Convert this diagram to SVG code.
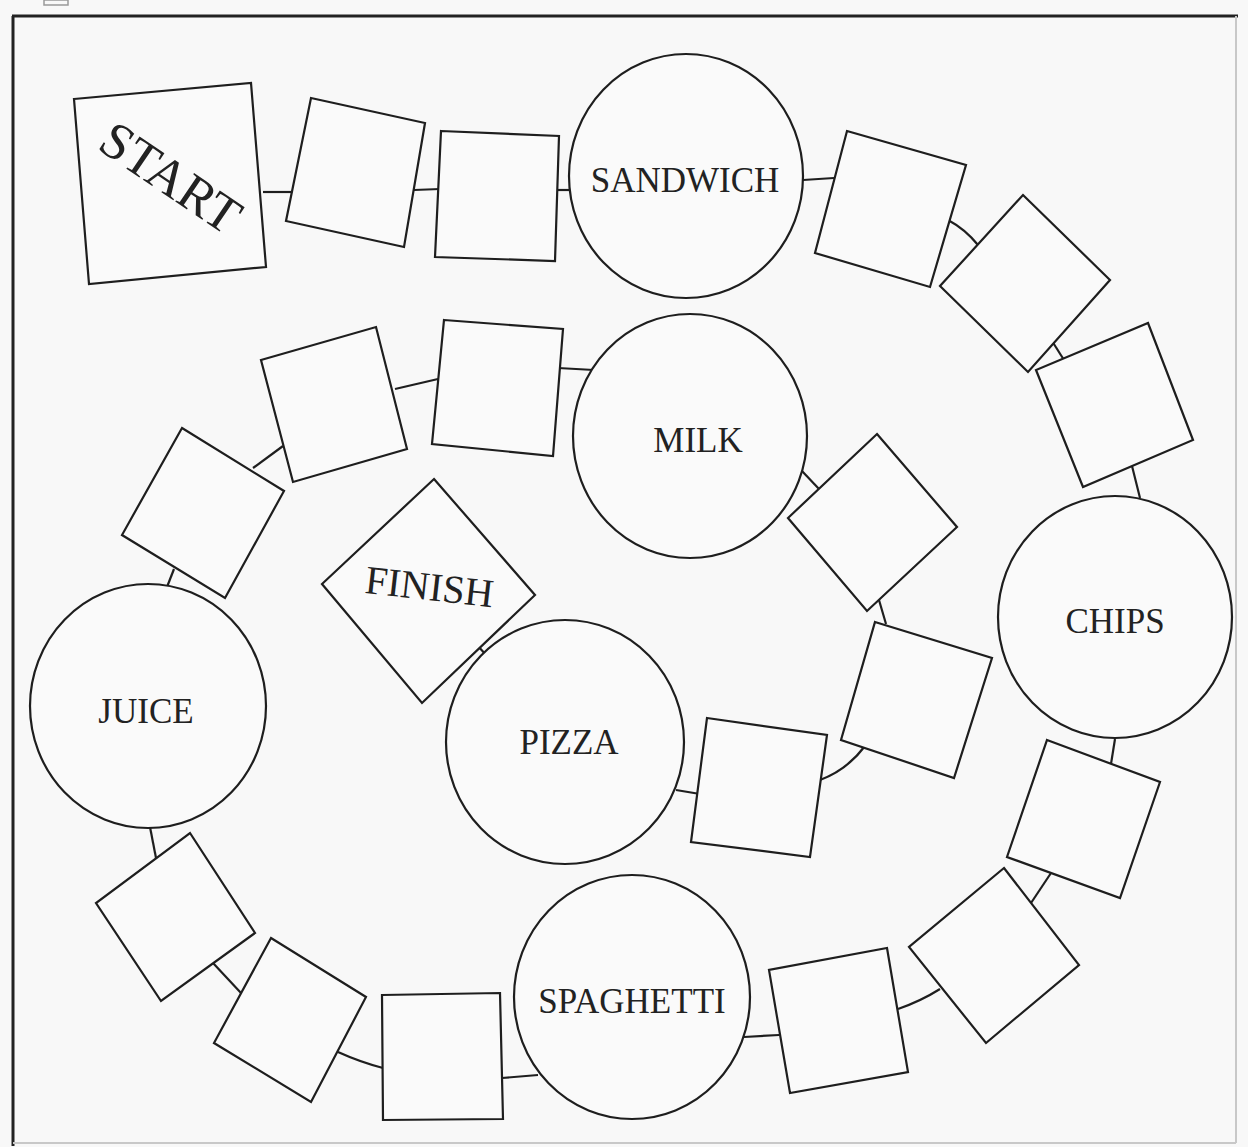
<svg xmlns="http://www.w3.org/2000/svg" width="1248" height="1147" viewBox="0 0 1248 1147">
<style>
.s{fill:#fafafa;stroke:#1e1e1e;stroke-width:2.2;stroke-linejoin:miter}
.c{fill:none;stroke:#1e1e1e;stroke-width:2.2}
.t{font-family:"Liberation Serif","Times New Roman",serif;font-size:35px;fill:#222;text-anchor:middle}
</style>
<rect x="0" y="0" width="1248" height="1147" fill="#f8f8f8"/>
<rect x="44" y="0" width="24" height="5" fill="none" stroke="#999" stroke-width="1.5"/>
<g id="frame">
<line x1="12" y1="16" x2="1238" y2="16" stroke="#222" stroke-width="3"/>
<line x1="13" y1="16" x2="13" y2="1146" stroke="#222" stroke-width="3"/>
<line x1="1236" y1="16" x2="1236" y2="1143" stroke="#c8c8c8" stroke-width="2"/>
<line x1="13" y1="1143" x2="1236" y2="1143" stroke="#c8c8c8" stroke-width="2"/>
</g>
<g id="connectors">
<line class="c" x1="263" y1="192" x2="291" y2="192"/>
<line class="c" x1="414" y1="190" x2="440" y2="189"/>
<line class="c" x1="556" y1="190" x2="571" y2="190"/>
<line class="c" x1="803" y1="180" x2="834" y2="178"/>
<path class="c" d="M948 220 Q965 229 978 245" stroke-width="3.5"/>
<line class="c" x1="1052" y1="341" x2="1064" y2="360" stroke-width="3.5"/>
<line class="c" x1="1132" y1="466" x2="1140" y2="498" stroke-width="3.5"/>
<line class="c" x1="1115" y1="739" x2="1111" y2="764" stroke-width="3.5"/>
<line class="c" x1="1051" y1="873" x2="1031" y2="903" stroke-width="3"/>
<path class="c" d="M940 989 Q921 1001 898 1009" stroke-width="2.5"/>
<line class="c" x1="779" y1="1035" x2="744" y2="1037"/>
<line class="c" x1="538" y1="1075" x2="502" y2="1078"/>
<path class="c" d="M383 1068 Q360 1062 338 1052" stroke-width="2.8"/>
<line class="c" x1="241" y1="993" x2="213" y2="963" stroke-width="3"/>
<line class="c" x1="156" y1="858" x2="150" y2="827" stroke-width="3.5"/>
<line class="c" x1="167" y1="587" x2="174" y2="569" stroke-width="3"/>
<line class="c" x1="253" y1="468" x2="283" y2="446"/>
<line class="c" x1="395" y1="389" x2="438" y2="379"/>
<line class="c" x1="558" y1="368" x2="594" y2="370"/>
<line class="c" x1="802" y1="471" x2="819" y2="489" stroke-width="3"/>
<line class="c" x1="879" y1="600" x2="886" y2="624" stroke-width="3.5"/>
<path class="c" d="M865 746 Q847 770 820 780"/>
<line class="c" x1="676" y1="790" x2="700" y2="794"/>
<line class="c" x1="477" y1="645" x2="487" y2="656"/>
</g>
<g id="start">
<polygon class="s" points="74,99 251,83 266,267 89,284"/>
<text class="t" style="font-size:52px" x="161" y="192" transform="rotate(34 161 192)">START</text>
</g>
<g id="sq2"><polygon class="s" points="311,98 425,123 404,247 286,221"/></g>
<g id="sq3"><polygon class="s" points="441,131 559,136 555,261 435,257"/></g>
<g id="sandwich">
<ellipse class="s" cx="686" cy="176" rx="117" ry="122"/>
<text class="t" x="685" y="192">SANDWICH</text>
</g>
<g id="sq4"><polygon class="s" points="847,131 966,165 930,287 815,253"/></g>
<g id="sq5"><polygon class="s" points="1023,195 1110,280 1028,372 940,286"/></g>
<g id="sq6"><polygon class="s" points="1148,323 1193,440 1083,487 1036,370"/></g>
<g id="chips">
<ellipse class="s" cx="1115" cy="617" rx="117" ry="121"/>
<text class="t" x="1115" y="633">CHIPS</text>
</g>
<g id="sq9"><polygon class="s" points="1047,740 1160,782 1120,898 1007,857"/></g>
<g id="sq10"><polygon class="s" points="1004,868 1079,965 986,1043 909,947"/></g>
<g id="sq11"><polygon class="s" points="887,948 908,1072 790,1093 769,970"/></g>
<g id="spaghetti">
<ellipse class="s" cx="632" cy="997" rx="118" ry="122"/>
<text class="t" x="632" y="1013">SPAGHETTI</text>
</g>
<g id="sq13"><polygon class="s" points="382,995 500,993 503,1119 383,1120"/></g>
<g id="sq14"><polygon class="s" points="271,938 366,997 311,1102 214,1043"/></g>
<g id="sq15"><polygon class="s" points="190,833 255,933 161,1001 96,903"/></g>
<g id="juice">
<ellipse class="s" cx="148" cy="706" rx="118" ry="122"/>
<text class="t" x="146" y="723">JUICE</text>
</g>
<g id="sq17"><polygon class="s" points="182,428 284,491 225,598 122,535"/></g>
<g id="sq18"><polygon class="s" points="261,360 376,327 407,449 293,482"/></g>
<g id="sq19"><polygon class="s" points="444,320 563,329 553,456 432,444"/></g>
<g id="milk">
<ellipse class="s" cx="690" cy="436" rx="117" ry="122"/>
<text class="t" x="698" y="452">MILK</text>
</g>
<g id="sq21"><polygon class="s" points="877,434 957,527 867,611 788,518"/></g>
<g id="sq22"><polygon class="s" points="875,622 992,658 954,778 841,740"/></g>
<g id="sq23"><polygon class="s" points="707,718 827,735 810,857 691,842"/></g>
<g id="pizza">
<ellipse class="s" cx="565" cy="742" rx="119" ry="122"/>
<text class="t" x="569" y="754">PIZZA</text>
</g>
<g id="finish">
<polygon class="s" points="434,479 535,595 422,703 322,584"/>
<text class="t" style="font-size:40px" x="428" y="600" transform="rotate(6.5 428 600)">FINISH</text>
</g>
</svg>
